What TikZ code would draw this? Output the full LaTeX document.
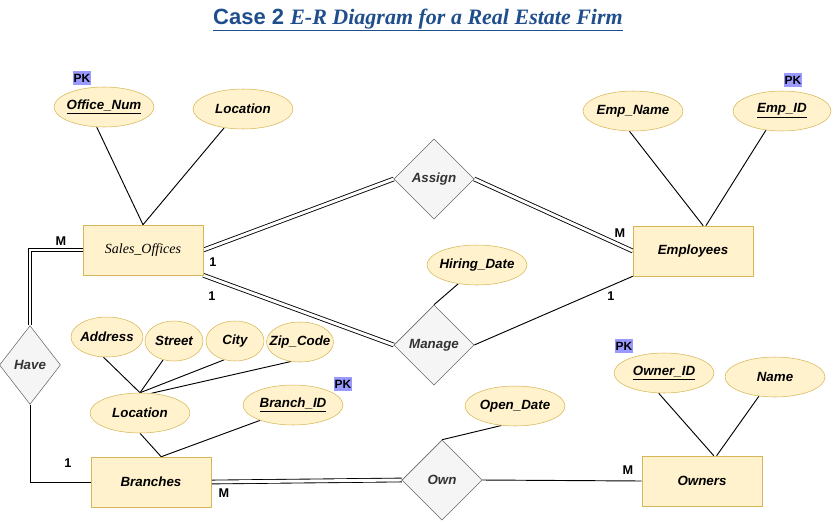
\documentclass[tikz,border=0pt]{standalone}
\usepackage{fontspec}
\setsansfont{Liberation Sans}
\newfontfamily\timesf{Liberation Serif}
\usetikzlibrary{positioning,shapes.geometric,backgrounds}
\definecolor{attrfill}{HTML}{FFF2CC}
\definecolor{attrline}{HTML}{D6B656}
\definecolor{relfill}{HTML}{F5F5F5}
\definecolor{relline}{HTML}{666666}
\definecolor{pkfill}{HTML}{9999FF}
\definecolor{titleblue}{HTML}{1F4E8C}
\newcommand{\atxt}[1]{\makebox[0pt]{#1}}

\begin{document}
\begin{tikzpicture}[
  x=0.75pt, y=-0.75pt,
  font=\sffamily\bfseries\itshape\fontsize{10}{12}\selectfont,
  entbox/.style={draw=attrline, fill=attrfill, minimum width=90pt, minimum height=37.5pt, inner sep=0pt},
  attr/.style={ellipse, draw=attrline, fill=attrfill, minimum width=75pt, minimum height=30pt, inner sep=0pt},
  relbox/.style={diamond, draw=relline, fill=relfill, text=black!80, minimum width=60pt, minimum height=60pt, inner sep=0pt},
  pkbox/.style={fill=pkfill, font=\sffamily\bfseries\fontsize{9}{10}\selectfont, inner sep=0.6pt, minimum height=11pt},
  card/.style={font=\sffamily\bfseries\fontsize{9.5}{10}\selectfont, inner sep=0pt},
  lnk/.style={line width=0.7pt},
  dbl/.style={double, double distance=2.2pt, line width=0.65pt}
]
\useasboundingbox (0,0) rectangle (834,521);
\node[text=titleblue, font=\fontsize{16.5}{19}\selectfont] (title) at (418,20)
  {\underline{\sffamily\bfseries Case 2 \timesf\bfseries\itshape E-R Diagram for a Real Estate Firm}};

\node[entbox] (so) at (143,250) {\timesf\mdseries\itshape\fontsize{10.5}{12}\selectfont Sales\_Offices};
\node[entbox] (emp) at (693,251) {Employees};
\node[entbox] (br) at (151,482) {Branches};
\node[entbox] (ow) at (702,481) {Owners};

\node[relbox] (assign) at (434,179) {Assign};
\node[relbox] (manage) at (434,345) {Manage};
\node[relbox] (own) at (442,480) {Own};
\node[relbox, minimum width=45.75pt, minimum height=59pt] (have) at (30,365) {Have};

\node[attr] (offnum) at (104,107) {\atxt{\underline{Office\_Num}}};
\node[attr] (soloc) at (243,109) {\atxt{Location}};
\node[attr] (empname) at (633,111) {\atxt{Emp\_Name}};
\node[attr, minimum width=73.5pt] (empid) at (782,111) {\atxt{\underline{Emp\_ID}}};
\node[attr] (hiredate) at (477,265) {\atxt{Hiring\_Date}};
\node[attr, minimum width=54pt] (addr) at (107,337) {\atxt{Address}};
\node[attr, minimum width=43.5pt] (street) at (174,341) {\atxt{Street}};
\node[attr, minimum width=43.5pt] (city) at (235,341) {\atxt{City}};
\node[attr, minimum width=50.25pt] (zip) at (300,342) {\atxt{Zip\_Code}};
\node[attr] (brloc) at (140,413) {\atxt{Location}};
\node[attr] (brid) at (293,405) {\atxt{\underline{Branch\_ID}}};
\node[attr] (opendate) at (515,406) {\atxt{Open\_Date}};
\node[attr] (ownid) at (664,373) {\atxt{\underline{Owner\_ID}}};
\node[attr] (ownname) at (775,377) {\atxt{Name}};

\node[pkbox] (pk1) at (82,78) {PK};
\node[pkbox] (pk2) at (793,80) {PK};
\node[pkbox] (pk3) at (343,384) {PK};
\node[pkbox] (pk4) at (624,346) {PK};

\node[card] (c1) at (61,241) {M};
\node[card] (c2) at (213,262) {1};
\node[card] (c3) at (212,296) {1};
\node[card] (c4) at (620,233) {M};
\node[card] (c5) at (611,296) {1};
\node[card] (c6) at (68,463) {1};
\node[card] (c7) at (224,493) {M};
\node[card] (c8) at (628,470) {M};

\begin{scope}[on background layer]
\draw[lnk] (offnum.-110) -- (so.north);
\draw[lnk] (soloc.-135) -- (so.north);
\draw[lnk] (empname.-100) -- (emp.68);
\draw[lnk] (empid.-130) -- (emp.63);
\draw[lnk] (hiredate.-135) -- (manage.north);
\draw[dbl] (so.east) -- (assign.west);
\draw[dbl] (assign.east) -- (emp.west);
\draw[dbl] (so.south east) -- (manage.west);
\draw[lnk] (manage.east) -- (emp.south west);
\draw[dbl] (so.west) -| (have.north);
\draw[lnk] (have.south) |- (br.west);
\draw[dbl] (br.east) -- (own.west);
\draw[lnk] (own.east) -- (ow.west);
\draw[lnk] (opendate.-125) -- (own.north);
\draw[lnk] (ownid.-105) -- (ow.65);
\draw[lnk] (ownname.-130) -- (ow.60);
\draw[lnk] (addr.-100) -- (brloc.north);
\draw[lnk] (street.-120) -- (brloc.north);
\draw[lnk] (city.-120) -- (brloc.north);
\draw[lnk] (zip.-115) -- (brloc.60);
\draw[lnk] (brloc.south) -- (br.68);
\draw[lnk] (brid.-155) -- (br.68);
\end{scope}
\end{tikzpicture}
\end{document}
